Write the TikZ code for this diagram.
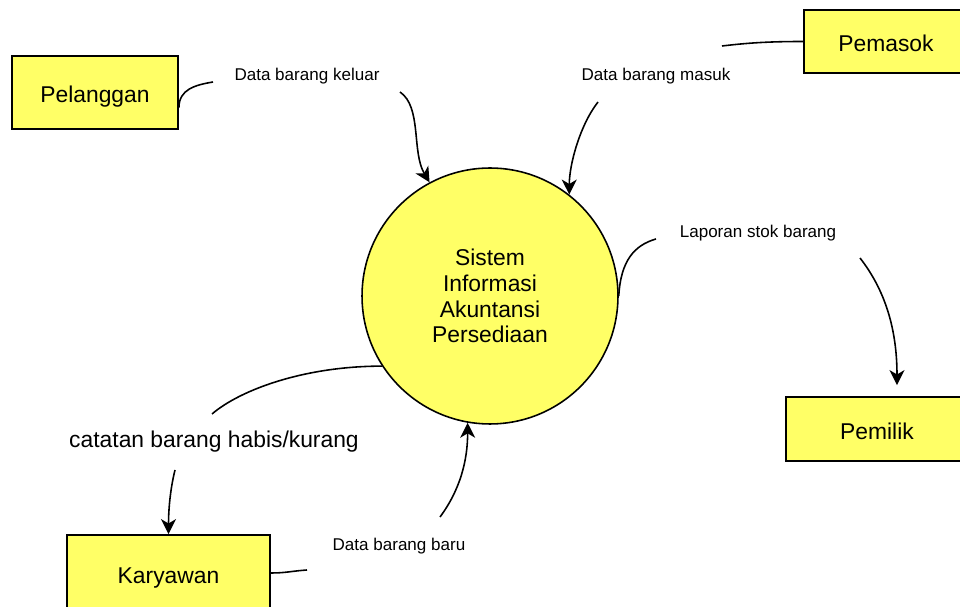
\documentclass[tikz,border=0pt]{standalone}
\usepackage{fontspec}
\setmainfont{Liberation Sans}
\usetikzlibrary{arrows.meta}
\definecolor{entyellow}{RGB}{255,255,102}

\begin{document}
\begin{tikzpicture}[x=0.02cm, y=0.02cm]

    \useasboundingbox (0,0) rectangle (960,-607);

    \tikzset{
        entity/.style={draw, line width=1.1pt, fill=entyellow, text height=11.4pt, text depth=0pt,
                       font=\fontsize{13}{15}\selectfont},
        flowlbl/.style={inner sep=0pt, font=\fontsize{9.7}{11}\selectfont},
        flow/.style={line width=0.9pt},
        flowarr/.style={flow, -{Stealth[length=8.5pt, width=8.5pt, inset=2.5pt]}}
    }

    % Process
    \node[circle, draw, line width=0.9pt, fill=entyellow, minimum size=5.12cm, align=center,
          font=\fontsize{13}{14.7}\selectfont] (sia) at (490,-296) {Sistem\\Informasi\\Akuntansi\\Persediaan};

    % Entities
    \node[entity, minimum width=3.32cm, minimum height=1.46cm] (pelanggan) at (95,-92.5) {Pelanggan};
    \node[entity, minimum width=3.28cm, minimum height=1.26cm] (pemasok) at (886,-41.5) {Pemasok};
    \node[entity, minimum width=3.64cm, minimum height=1.28cm] (pemilik) at (877,-429) {Pemilik};
    \node[entity, minimum width=4.06cm, minimum height=1.52cm] (karyawan) at (168.5,-573) {Karyawan};

    % Flow labels
    \node[flowlbl] (lkeluar) at (307,-76) {Data barang keluar};
    \node[flowlbl] (lmasuk) at (656,-76) {Data barang masuk};
    \node[flowlbl] (llaporan) at (758,-233) {Laporan stok barang};
    \node[inner sep=0pt, font=\fontsize{13}{15}\selectfont] (lcatatan) at (214,-442) {catatan barang habis/kurang};
    \node[flowlbl] (lbaru) at (399,-546) {Data barang baru};

    % Free ends near the labels
    \coordinate (keluarin) at (213,-82);
    \coordinate (keluarout) at (400,-92);
    \coordinate (masukin) at (722,-46);
    \coordinate (masukout) at (598,-102);
    \coordinate (laporanin) at (656,-239);
    \coordinate (laporanout) at (860,-258);
    \coordinate (catatanin) at (212,-414);
    \coordinate (catatanout) at (175,-470);
    \coordinate (baruin) at (307,-570);
    \coordinate (baruout) at (440,-517);

    % Flows
    \draw[flow] ([yshift=-0.3cm]pelanggan.east) .. controls +(0,18) and +(-18,-3) .. (keluarin);
    \draw[flowarr] (keluarout) .. controls +(22,-15) and +(-18,30) .. (sia.118);

    \draw[flow] (pemasok.west) .. controls +(-35,0) and +(25,3) .. (masukin);
    \draw[flowarr] (masukout) .. controls +(-18,-23) and +(0,30) .. (sia.52);

    \draw[flow] (sia.east) .. controls +(2,36) and +(-21,-6) .. (laporanin);
    \draw[flowarr] (laporanout) .. controls +(25,-32) and +(0,56) .. ([shift={(20,11)}]pemilik.north);

    \draw[flow] (sia.213) .. controls +(-78,0) and +(28,24) .. (catatanin);
    \draw[flowarr] (catatanout) .. controls +(-5,-20) and +(0,23) .. (karyawan.north);

    \draw[flow] (karyawan.east) .. controls +(15,0) and +(-15,-1) .. (baruin);
    \draw[flowarr] (baruout) .. controls +(20,27) and +(0,-38) .. (sia.260);

\end{tikzpicture}
\end{document}
